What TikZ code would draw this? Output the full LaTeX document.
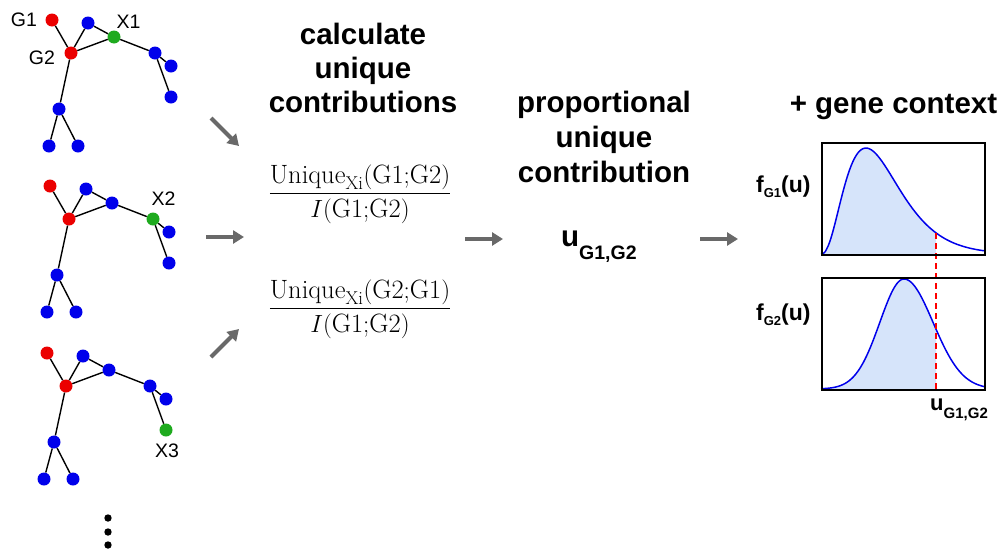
\documentclass[tikz,border=0pt]{standalone}
\usepackage{amsmath}
\usepackage{fontspec}
\newfontfamily\arial{Liberation Sans}
\usetikzlibrary{arrows.meta}
\definecolor{nred}{RGB}{235,0,0}
\definecolor{nblue}{RGB}{0,0,235}
\definecolor{ngreen}{RGB}{30,170,30}
\definecolor{arrgray}{RGB}{105,105,105}
\definecolor{fillblue}{RGB}{214,228,250}
\definecolor{curveblue}{RGB}{0,0,235}
\newcommand\mytree[6]{%
\begin{scope}[shift={(#2,#3)}]
\node[tdot,fill=nred] (#1g1) at (52,20) {};
\node[tdot,fill=nblue] (#1t) at (88,23) {};
\node[tdot,fill=#4] (#1m) at (114,37) {};
\node[tdot,fill=nred] (#1g2) at (71,53) {};
\node[tdot,fill=#5] (#1r1) at (155,53) {};
\node[tdot,fill=nblue] (#1r2) at (171,66) {};
\node[tdot,fill=#6] (#1r3) at (171,97) {};
\node[tdot,fill=nblue] (#1l) at (59,109) {};
\node[tdot,fill=nblue] (#1la) at (49,146) {};
\node[tdot,fill=nblue] (#1lb) at (78,146) {};
\draw[tedge] (#1g1)--(#1g2) (#1g2)--(#1t) (#1t)--(#1m) (#1g2)--(#1m)
  (#1m)--(#1r1) (#1r1)--(#1r2) (#1r1)--(#1r3) (#1g2)--(#1l)
  (#1l)--(#1la) (#1l)--(#1lb);
\end{scope}}
\begin{document}
\begin{tikzpicture}[x=1pt,y=-1pt,
  tdot/.style={circle,inner sep=0pt,minimum size=13pt,draw=none},
  tedge/.style={draw=black,line width=1.4pt},
  tlab/.style={inner sep=0pt,font=\arial\fontsize{19.5}{20}\selectfont},
  bdot/.style={circle,inner sep=0pt,minimum size=7.4pt,fill=black},
  garrow/.style={draw=arrgray,line width=4pt,-{Triangle[length=11pt,width=13pt]}},
  hd/.style={anchor=base,inner sep=0pt,font=\arial\bfseries\fontsize{29.5}{34}\selectfont},
  frac/.style={inner sep=0pt,font=\fontsize{26.5}{30}\selectfont},
  plotbox/.style={draw=black,line width=1.5pt},
  pcurve/.style={draw=curveblue,line width=1.5pt},
  plab/.style={anchor=base west,inner sep=0pt}
]
\useasboundingbox (0,0) rectangle (1000,552);

% trees
\mytree{a}{0}{0}{ngreen}{nblue}{nblue}
\mytree{b}{-2}{166}{nblue}{ngreen}{nblue}
\mytree{c}{-5}{333}{nblue}{nblue}{ngreen}

\node[tlab] (lg1) at (24,20) {G1};
\node[tlab] (lx1) at (128.5,21.5) {X1};
\node[tlab] (lg2) at (42,58) {G2};
\node[tlab] (lx2) at (163.5,199) {X2};
\node[tlab] (lx3) at (167,451) {X3};

\node[bdot] (d1) at (108,518) {};
\node[bdot] (d2) at (108,532) {};
\node[bdot] (d3) at (108,545) {};

% arrows
\coordinate (a1s) at (211,118); \coordinate (a1e) at (239,146);
\coordinate (a2s) at (206,237); \coordinate (a2e) at (244,237);
\coordinate (a3s) at (211,357); \coordinate (a3e) at (239,329);
\coordinate (a4s) at (465,239); \coordinate (a4e) at (503,239);
\coordinate (a5s) at (700,239); \coordinate (a5e) at (738,239);
\draw[garrow] (a1s) -- (a1e);
\draw[garrow] (a2s) -- (a2e);
\draw[garrow] (a3s) -- (a3e);
\draw[garrow] (a4s) -- (a4e);
\draw[garrow] (a5s) -- (a5e);

% headings
\node[hd] (h1a) at (363,44) {calculate};
\node[hd] (h1b) at (363,78) {unique};
\node[hd] (h1c) at (363,112) {contributions};
\node[hd] (h2a) at (604,112) {proportional};
\node[hd] (h2b) at (604,147) {unique};
\node[hd] (h2c) at (604,182) {contribution};
\node[hd] (h3) at (893.5,113) {+ gene context};

% fractions
\node[frac] (fr1) at (360,194) {$\dfrac{\mathrm{Unique}_{\mathrm{Xi}}(\mathrm{G1{;}G2})}{I(\mathrm{G1{;}G2})}$};
\node[frac] (fr2) at (360,309) {$\dfrac{\mathrm{Unique}_{\mathrm{Xi}}(\mathrm{G2{;}G1})}{I(\mathrm{G1{;}G2})}$};

% u label
\node[plab] (ulab) at (561,246) {\arial\bfseries\fontsize{29.5}{30}\selectfont u\raisebox{-13pt}{\fontsize{19.5}{20}\selectfont G1,G2}};

% plots
\fill[fillblue] (821,254) -- plot[domain=0.01:0.7055,samples=80] ({821+163*\x},{254-112*0.946*exp(2.6*ln(\x/0.276)-(\x-0.276)/0.106)}) -- (936,254) -- cycle;
\draw[pcurve] (821,254) -- plot[domain=0.01:1,samples=120] ({821+163*\x},{254-112*0.946*exp(2.6*ln(\x/0.276)-(\x-0.276)/0.106)});

\fill[fillblue] (821,389) -- plot[domain=0:0.509,samples=60] ({821+163*\x},{389-112*0.982*exp(-(\x-0.509)*(\x-0.509)/0.0438)})
  -- plot[domain=0.509:0.7055,samples=30] ({821+163*\x},{389-112*0.982*exp(-(\x-0.509)*(\x-0.509)/0.0634)}) -- (936,389) -- cycle;
\draw[pcurve] plot[domain=0:0.509,samples=60] ({821+163*\x},{389-112*0.982*exp(-(\x-0.509)*(\x-0.509)/0.0438)})
  -- plot[domain=0.509:1,samples=60] ({821+163*\x},{389-112*0.982*exp(-(\x-0.509)*(\x-0.509)/0.0634)});

\coordinate (rd1) at (936,233);
\coordinate (rd2) at (936,389);
\draw[red,line width=1.5pt,dash pattern=on 6pt off 4pt] (rd1) -- (rd2);

\node[plotbox,inner sep=0pt,minimum width=163pt,minimum height=112pt,anchor=north west] (box1) at (821,142) {};
\node[plotbox,inner sep=0pt,minimum width=163pt,minimum height=112pt,anchor=north west] (box2) at (821,277) {};

\node[plab] (f1) at (756,192) {\arial\bfseries\fontsize{23}{24}\selectfont f\raisebox{-5pt}{\fontsize{13}{14}\selectfont G1}(u)};
\node[plab] (f2) at (756,320) {\arial\bfseries\fontsize{23}{24}\selectfont f\raisebox{-5pt}{\fontsize{13}{14}\selectfont G2}(u)};
\node[plab] (ub) at (930,410) {\arial\bfseries\fontsize{22}{23}\selectfont u\raisebox{-8pt}{\fontsize{15}{16}\selectfont G1,G2}};
\end{tikzpicture}
\end{document}
